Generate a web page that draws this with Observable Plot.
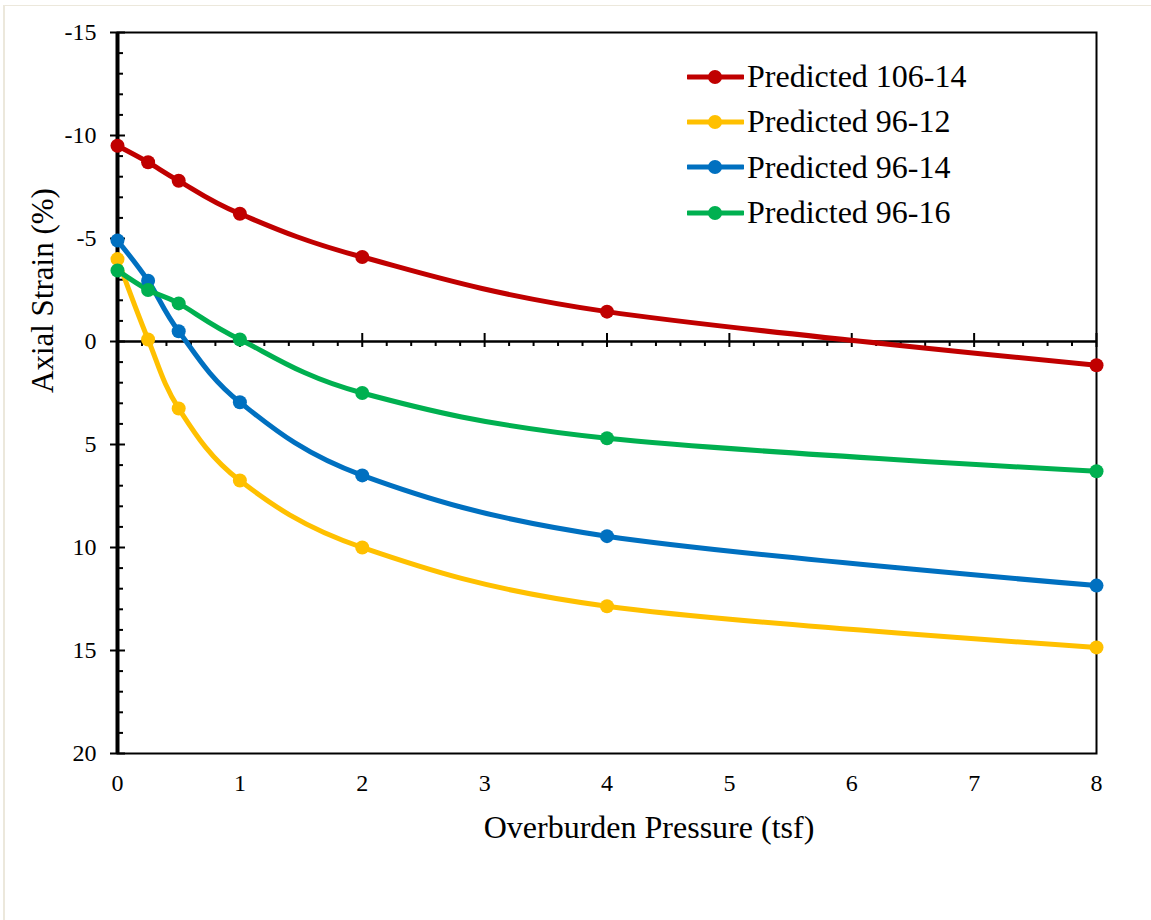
<!DOCTYPE html>
<html>
<head>
<meta charset="utf-8">
<script src="https://cdn.jsdelivr.net/npm/d3@7"></script>
<script src="https://cdn.jsdelivr.net/npm/@observablehq/plot@0.6"></script>
<style>
  html, body { margin: 0; padding: 0; background: #fff; }
  #wrap { position: relative; width: 1151px; height: 920px; overflow: hidden; font-family: "Liberation Serif", "Times New Roman", serif; }
  #border { position: absolute; left: 3px; top: 5px; width: 1160px; height: 930px; border-left: 2px solid #ece8dc; border-top: 1px solid #ece8dc; pointer-events: none; }
  #legend { position: absolute; left: 687px; top: 54px; }
  .row { display: flex; align-items: center; height: 45.3px; }
  .row span { font-size: 32px; margin-left: 3px; color: #000; white-space: nowrap; }
</style>
</head>
<body>
<div id="wrap">
  <div id="chart"></div>
  <div id="border"></div>
  <div id="legend"></div>
</div>
<script>
// ---- data ----
const pressure = [0, 0.25, 0.5, 1, 2, 4, 8];
const seriesNames = ["Predicted 106-14", "Predicted 96-12", "Predicted 96-14", "Predicted 96-16"];
const seriesColors = ["#C00000", "#FFC000", "#0070C0", "#00B050"];
const strain106_14 = [-9.5, -8.7, -7.8, -6.2, -4.1, -1.45, 1.15];
const strain96_12 = [-4.0, -0.1, 3.25, 6.75, 10.0, 12.85, 14.85];
const strain96_14 = [-4.9, -2.95, -0.5, 2.95, 6.5, 9.45, 11.85];
const strain96_16 = [-3.45, -2.5, -1.85, -0.1, 2.5, 4.7, 6.3];
const yTickValues = [-15, -10, -5, 0, 5, 10, 15, 20];
const xTickValues = [0, 1, 2, 3, 4, 5, 6, 7, 8];
const xLabel = "Overburden Pressure (tsf)";
const yLabel = "Axial Strain (%)";

const allStrains = [strain106_14, strain96_12, strain96_14, strain96_16];
const rows = [];
seriesNames.forEach((name, s) => {
  pressure.forEach((p, i) => rows.push({series: name, pressure: p, strain: allStrains[s][i]}));
});
const yMinor = d3.range(-15, 21).filter(v => v % 5 !== 0);
const xMinor = d3.range(0, 41).filter(i => i % 5 !== 0).map(i => i / 5);

const font = '"Liberation Serif", "Times New Roman", serif';

const chart = Plot.plot({
  width: 1151,
  height: 920,
  marginLeft: 117,
  marginRight: 55,
  marginTop: 32,
  marginBottom: 167,
  style: {fontFamily: font, color: "#000", background: "transparent", overflow: "visible"},
  x: {domain: [0, 8]},
  y: {domain: [-15, 20], reverse: true},
  color: {domain: seriesNames, range: seriesColors},
  marks: [
    Plot.frame({stroke: "#000", strokeWidth: 2}),
    Plot.ruleY([0], {stroke: "#000", strokeWidth: 2.5}),
    // x ticks on the zero line
    Plot.ruleX(xTickValues.slice(1), {x: d => d, y1: 0, y2: 0, insetTop: -8, insetBottom: -6, stroke: "#000", strokeWidth: 2}),
    Plot.ruleX(xMinor, {x: d => d, y1: 0, y2: 0, insetTop: 0, insetBottom: -5, stroke: "#000", strokeWidth: 2}),
    // y ticks
    Plot.ruleY(yTickValues, {y: d => d, x1: 0, x2: 0, insetLeft: -7, insetRight: -8, stroke: "#000", strokeWidth: 2}),
    Plot.ruleY(yMinor, {y: d => d, x1: 0, x2: 0, insetLeft: 0, insetRight: -6, stroke: "#000", strokeWidth: 2}),
    Plot.ruleX([0], {stroke: "#000", strokeWidth: 4}),
    Plot.axisY({ticks: yTickValues, tickSize: 0, tickPadding: 21, tickFormat: d => String(d), fontSize: 24, label: null}),
    Plot.axisX({ticks: xTickValues, tickSize: 0, tickPadding: 20, tickFormat: d => String(d), fontSize: 24, label: null}),
    Plot.text([xLabel], {text: d => d, frameAnchor: "bottom", dx: 42, dy: 84, fontSize: 32}),
    Plot.text([yLabel], {text: d => d, frameAnchor: "left", rotate: -90, dx: -74, dy: 0, fontSize: 31}),
    Plot.line(rows, {x: "pressure", y: "strain", z: "series", stroke: "series", strokeWidth: 5, curve: "cardinal"}),
    Plot.dot(rows, {x: "pressure", y: "strain", fill: "series", r: 7})
  ]
});
document.getElementById("chart").appendChild(chart);

// legend
const legend = document.getElementById("legend");
seriesNames.forEach((name, i) => {
  const row = document.createElement("div");
  row.className = "row";
  row.innerHTML = `<svg width="57" height="20"><line x1="1" y1="10" x2="56" y2="10" stroke="${seriesColors[i]}" stroke-width="5" stroke-linecap="round"/><circle cx="28" cy="10" r="7" fill="${seriesColors[i]}"/></svg><span>${name}</span>`;
  legend.appendChild(row);
});
</script>
</body>
</html>
